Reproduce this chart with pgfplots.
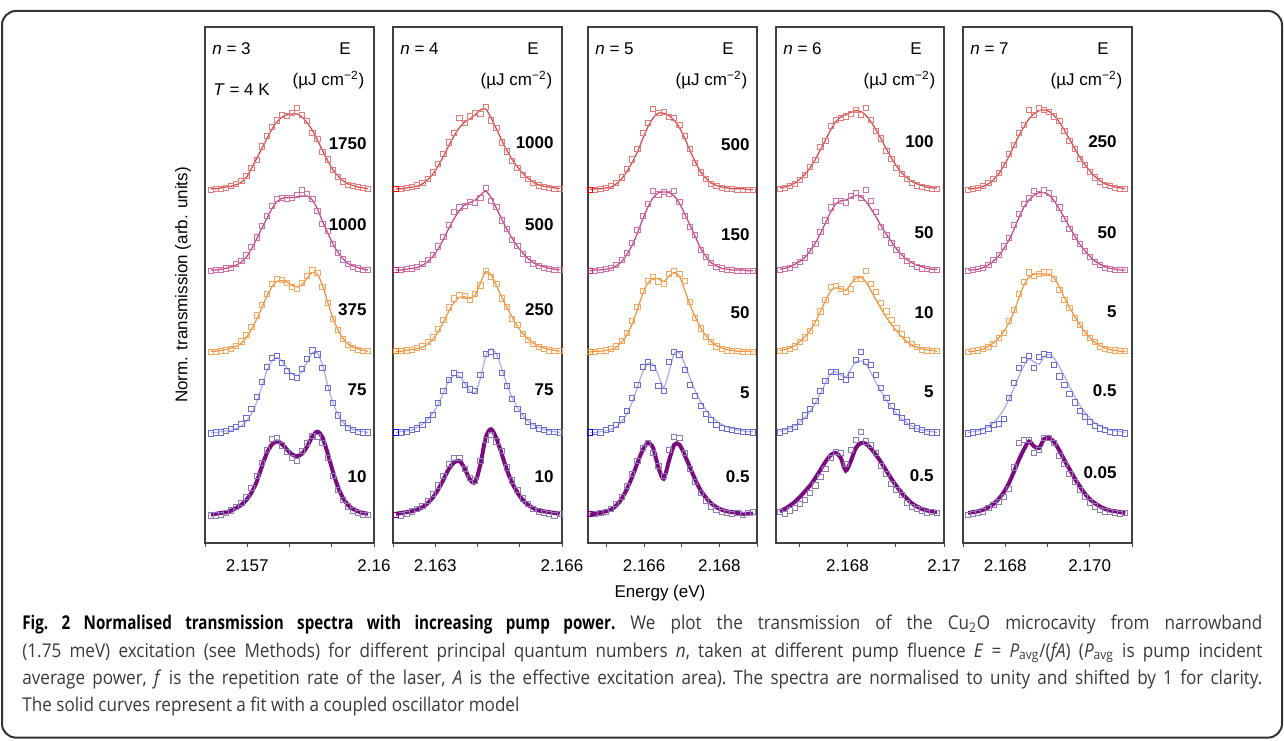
\documentclass[border=0pt]{standalone}
\usepackage{pgfplots}
\usepackage{pgfplotstable}
\pgfplotsset{compat=1.18}
\usepackage{fontspec}
\setmainfont{Liberation Sans}
\newfontfamily\capfont[FakeStretch=0.9, BoldFeatures={FakeStretch=0.8}]{Open Sans}

\definecolor{cP}{HTML}{7B0B7E}
\definecolor{mP}{HTML}{8C7AB8}
\definecolor{mB}{HTML}{6B6BD6}
\definecolor{lB}{HTML}{A9A9EE}
\definecolor{mO}{HTML}{F4A65C}
\definecolor{lO}{HTML}{F0913A}
\definecolor{mM}{HTML}{CF6FA8}
\definecolor{lM}{HTML}{C2407F}
\definecolor{mR}{HTML}{E27A7A}
\definecolor{lR}{HTML}{D64545}
\definecolor{txt}{HTML}{3A3A3A}

\newcommand\fs{\fontsize{8.5}{10}\selectfont}

% one row per series, transposed below
\pgfplotstableread[header=false]{
x 2.15614 2.15626 2.15638 2.15650 2.15662 2.15674 2.15686 2.15698 2.15710 2.15722 2.15734 2.15746 2.15758 2.15770 2.15782 2.15794 2.15806 2.15818 2.15830 2.15842 2.15854 2.15866 2.15878 2.15890 2.15902 2.15914 2.15926 2.15938 2.15950 2.15962 2.15974 2.15986
m0 -0.01 -0.01 0.00 0.02 0.05 0.09 0.14 0.22 0.33 0.48 0.64 0.80 0.93 0.94 0.85 0.77 0.70 0.66 0.78 0.88 0.97 0.96 0.88 0.70 0.48 0.30 0.18 0.10 0.05 0.02 0.00 0.00
m1 0.00 0.01 0.01 0.03 0.05 0.08 0.12 0.19 0.30 0.45 0.63 0.82 0.93 0.95 0.87 0.77 0.70 0.68 0.79 0.92 1.02 0.97 0.80 0.56 0.37 0.22 0.13 0.07 0.04 0.02 0.01 0.01
m2 0.00 0.00 0.01 0.02 0.04 0.08 0.13 0.21 0.31 0.45 0.58 0.72 0.84 0.90 0.89 0.85 0.80 0.78 0.85 0.94 1.01 0.97 0.80 0.60 0.41 0.27 0.16 0.09 0.05 0.03 0.01 0.01
m3 0.00 0.01 0.01 0.03 0.04 0.08 0.12 0.19 0.29 0.41 0.55 0.68 0.80 0.88 0.90 0.89 0.90 0.93 1.00 0.95 0.88 0.74 0.58 0.49 0.33 0.22 0.14 0.08 0.05 0.03 0.01 0.01
m4 0.00 0.01 0.01 0.02 0.04 0.07 0.11 0.17 0.27 0.36 0.53 0.66 0.77 0.85 0.92 0.91 0.94 1.00 0.92 0.84 0.70 0.62 0.46 0.37 0.24 0.16 0.10 0.06 0.04 0.03 0.02 0.01
f0 0.00 0.01 0.02 0.03 0.05 0.08 0.12 0.18 0.27 0.40 0.58 0.75 0.86 0.90 0.87 0.80 0.74 0.72 0.75 0.84 0.96 1.02 0.95 0.76 0.54 0.35 0.21 0.12 0.07 0.04 0.02 0.01
f1 0.01 0.01 0.02 0.03 0.04 0.06 0.09 0.15 0.24 0.38 0.56 0.76 0.89 0.93 0.89 0.80 0.73 0.71 0.76 0.88 0.99 0.99 0.84 0.60 0.39 0.24 0.14 0.08 0.05 0.03 0.02 0.01
f2 0.01 0.01 0.02 0.03 0.05 0.07 0.11 0.18 0.28 0.40 0.54 0.68 0.80 0.87 0.88 0.86 0.82 0.80 0.83 0.91 0.98 0.96 0.82 0.62 0.43 0.28 0.17 0.10 0.06 0.04 0.02 0.01
f3 0.01 0.01 0.02 0.03 0.05 0.07 0.11 0.17 0.27 0.39 0.52 0.64 0.76 0.85 0.89 0.90 0.90 0.91 0.92 0.92 0.87 0.76 0.61 0.47 0.34 0.23 0.15 0.09 0.06 0.04 0.02 0.01
f4 0.01 0.01 0.02 0.03 0.04 0.06 0.09 0.15 0.26 0.38 0.50 0.62 0.74 0.83 0.89 0.92 0.93 0.93 0.89 0.82 0.73 0.61 0.48 0.36 0.25 0.17 0.11 0.07 0.05 0.03 0.02 0.01
}\rawA
\pgfplotstableread[header=false]{
x 2.162070 2.162195 2.162320 2.162445 2.162570 2.162695 2.162820 2.162945 2.163070 2.163195 2.163320 2.163445 2.163570 2.163695 2.163820 2.163945 2.164070 2.164195 2.164320 2.164445 2.164570 2.164695 2.164820 2.164945 2.165070 2.165195 2.165320 2.165445 2.165570 2.165695 2.165820 2.165945
m0 0.00 -0.01 0.01 0.04 0.07 0.11 0.17 0.25 0.36 0.48 0.62 0.70 0.70 0.56 0.45 0.42 0.66 0.92 0.98 0.90 0.78 0.58 0.42 0.30 0.20 0.13 0.07 0.04 0.02 0.01 -0.01 0.01
m1 0.01 0.01 0.02 0.04 0.06 0.10 0.16 0.23 0.37 0.52 0.66 0.74 0.72 0.60 0.54 0.52 0.72 0.98 1.00 0.95 0.74 0.58 0.42 0.30 0.21 0.14 0.09 0.06 0.04 0.02 0.02 0.01
m2 0.01 0.01 0.02 0.03 0.05 0.07 0.12 0.18 0.28 0.40 0.55 0.66 0.70 0.69 0.64 0.72 0.82 1.00 0.92 0.84 0.66 0.56 0.41 0.33 0.22 0.15 0.10 0.06 0.04 0.02 0.01 0.01
m3 0.01 0.01 0.02 0.03 0.05 0.08 0.13 0.20 0.30 0.42 0.56 0.72 0.78 0.80 0.85 0.84 0.90 1.02 0.86 0.79 0.62 0.52 0.38 0.31 0.21 0.14 0.09 0.06 0.04 0.02 0.01 0.01
m4 0.01 0.01 0.02 0.03 0.05 0.08 0.13 0.21 0.32 0.44 0.58 0.70 0.88 0.82 0.90 0.94 0.93 1.02 0.85 0.76 0.58 0.47 0.35 0.27 0.18 0.13 0.08 0.05 0.03 0.02 0.01 0.01
f0 0.01 0.02 0.03 0.04 0.06 0.09 0.14 0.21 0.31 0.43 0.56 0.64 0.66 0.57 0.43 0.40 0.62 0.95 1.05 0.94 0.75 0.55 0.39 0.27 0.18 0.12 0.08 0.05 0.04 0.03 0.02 0.01
f1 0.01 0.02 0.03 0.04 0.07 0.11 0.17 0.25 0.36 0.50 0.64 0.71 0.70 0.62 0.52 0.50 0.68 0.95 1.04 0.98 0.80 0.60 0.44 0.32 0.22 0.15 0.10 0.07 0.05 0.03 0.02 0.01
f2 0.01 0.01 0.02 0.03 0.04 0.06 0.10 0.16 0.25 0.37 0.50 0.61 0.67 0.68 0.66 0.70 0.85 0.99 0.95 0.82 0.68 0.55 0.43 0.32 0.23 0.16 0.11 0.07 0.05 0.03 0.02 0.01
f3 0.01 0.01 0.02 0.03 0.04 0.07 0.11 0.18 0.27 0.39 0.52 0.64 0.74 0.81 0.84 0.87 0.93 0.98 0.90 0.77 0.64 0.51 0.40 0.30 0.22 0.15 0.10 0.07 0.05 0.03 0.02 0.01
f4 0.01 0.01 0.02 0.03 0.04 0.07 0.12 0.19 0.29 0.41 0.54 0.66 0.76 0.83 0.87 0.92 0.98 0.99 0.88 0.75 0.61 0.48 0.37 0.28 0.20 0.14 0.09 0.06 0.04 0.03 0.02 0.01
}\rawB
\pgfplotstableread[header=false]{
x 2.16456 2.16470 2.16484 2.16498 2.16512 2.16526 2.16540 2.16554 2.16568 2.16582 2.16596 2.16610 2.16624 2.16638 2.16652 2.16666 2.16680 2.16694 2.16708 2.16722 2.16736 2.16750 2.16764 2.16778 2.16792 2.16806 2.16820 2.16834 2.16848 2.16862 2.16876 2.16890
m0 0.01 0.01 0.02 0.03 0.07 0.13 0.22 0.35 0.50 0.66 0.82 0.88 0.76 0.60 0.48 0.80 0.96 0.94 0.76 0.56 0.40 0.27 0.17 0.10 0.06 0.03 0.02 0.01 0.02 0.00 0.02 0.03
m1 0.01 0.02 0.01 0.04 0.06 0.10 0.17 0.28 0.44 0.60 0.82 0.88 0.80 0.58 0.52 0.88 1.00 0.97 0.78 0.60 0.46 0.34 0.24 0.16 0.10 0.07 0.05 0.04 0.03 0.02 0.02 0.01
m2 0.00 0.00 0.01 0.02 0.04 0.07 0.14 0.24 0.38 0.56 0.75 0.88 0.92 0.87 0.84 0.96 1.00 0.96 0.88 0.62 0.42 0.29 0.19 0.12 0.07 0.04 0.02 0.01 0.01 0.00 0.00 0.00
m3 0.00 0.00 0.01 0.02 0.04 0.07 0.13 0.22 0.34 0.50 0.68 0.82 0.98 0.94 0.97 0.95 0.98 0.85 0.68 0.54 0.44 0.26 0.17 0.10 0.05 0.03 0.01 0.01 0.00 0.00 0.00 0.00
m4 0.00 0.00 0.01 0.02 0.04 0.08 0.15 0.25 0.37 0.50 0.70 0.82 0.99 0.94 0.96 0.89 0.88 0.80 0.66 0.50 0.33 0.21 0.13 0.07 0.04 0.02 0.01 0.01 0.00 0.00 0.00 0.00
f0 0.00 0.01 0.02 0.04 0.06 0.11 0.19 0.31 0.46 0.63 0.79 0.88 0.82 0.58 0.44 0.66 0.86 0.86 0.73 0.58 0.43 0.30 0.21 0.14 0.09 0.06 0.04 0.03 0.02 0.01 0.01 0.01
f1 0.01 0.01 0.02 0.03 0.05 0.08 0.14 0.24 0.38 0.56 0.75 0.86 0.85 0.72 0.56 0.75 0.98 0.99 0.85 0.68 0.52 0.39 0.29 0.21 0.15 0.11 0.08 0.06 0.04 0.03 0.02 0.02
f2 0.00 0.01 0.01 0.02 0.03 0.06 0.12 0.21 0.34 0.52 0.71 0.85 0.91 0.90 0.87 0.93 0.98 0.93 0.76 0.58 0.43 0.30 0.20 0.13 0.08 0.05 0.03 0.02 0.01 0.01 0.01 0.00
f3 0.00 0.01 0.01 0.02 0.03 0.06 0.11 0.20 0.31 0.46 0.63 0.78 0.90 0.96 0.97 0.96 0.92 0.83 0.70 0.56 0.42 0.28 0.18 0.10 0.06 0.03 0.02 0.01 0.01 0.01 0.00 0.00
f4 0.00 0.01 0.01 0.02 0.03 0.07 0.13 0.22 0.33 0.46 0.62 0.77 0.88 0.94 0.94 0.91 0.85 0.76 0.63 0.48 0.34 0.22 0.14 0.08 0.05 0.03 0.02 0.01 0.01 0.01 0.00 0.00
}\rawC
\pgfplotstableread[header=false]{
x 2.166600 2.166705 2.166810 2.166915 2.167020 2.167125 2.167230 2.167335 2.167440 2.167545 2.167650 2.167755 2.167860 2.167965 2.168070 2.168175 2.168280 2.168385 2.168490 2.168595 2.168700 2.168805 2.168910 2.169015 2.169120 2.169225 2.169330 2.169435 2.169540 2.169645 2.169750 2.169855
m0 0.03 0.01 0.05 0.08 0.13 0.18 0.27 0.36 0.46 0.56 0.70 0.77 0.76 0.62 0.80 0.92 1.02 0.90 0.86 0.76 0.60 0.50 0.38 0.30 0.24 0.14 0.09 0.07 0.05 0.02 0.03 0.02
m1 0.01 0.03 0.05 0.08 0.14 0.22 0.30 0.40 0.52 0.64 0.76 0.76 0.70 0.66 0.72 0.90 1.00 0.88 0.84 0.72 0.56 0.44 0.34 0.26 0.19 0.14 0.09 0.06 0.04 0.02 0.01 0.01
m2 0.01 0.02 0.04 0.07 0.12 0.18 0.26 0.36 0.50 0.64 0.80 0.81 0.78 0.74 0.78 0.90 0.90 1.00 0.84 0.74 0.60 0.50 0.40 0.30 0.22 0.15 0.10 0.06 0.03 0.02 0.01 0.01
m3 0.01 0.02 0.04 0.07 0.11 0.16 0.24 0.33 0.48 0.62 0.78 0.86 0.86 0.84 0.92 0.96 0.90 1.00 0.86 0.72 0.54 0.44 0.34 0.26 0.18 0.12 0.08 0.05 0.03 0.02 0.01 0.01
m4 0.01 0.02 0.04 0.07 0.12 0.18 0.28 0.36 0.52 0.60 0.78 0.86 0.88 0.90 0.93 0.98 0.92 1.00 0.86 0.72 0.63 0.48 0.38 0.27 0.19 0.13 0.08 0.05 0.03 0.02 0.01 0.01
f0 0.04 0.07 0.11 0.16 0.22 0.29 0.36 0.45 0.55 0.65 0.73 0.76 0.70 0.54 0.66 0.82 0.88 0.87 0.81 0.73 0.64 0.54 0.44 0.35 0.27 0.20 0.14 0.10 0.07 0.05 0.04 0.03
f1 0.02 0.04 0.06 0.09 0.14 0.20 0.27 0.37 0.49 0.62 0.73 0.76 0.72 0.69 0.79 0.88 0.89 0.85 0.74 0.62 0.51 0.41 0.32 0.24 0.18 0.13 0.09 0.06 0.04 0.03 0.02 0.01
f2 0.02 0.03 0.05 0.08 0.13 0.19 0.27 0.37 0.50 0.63 0.75 0.79 0.78 0.76 0.84 0.91 0.92 0.86 0.75 0.64 0.53 0.43 0.34 0.26 0.19 0.13 0.09 0.06 0.04 0.03 0.02 0.01
f3 0.02 0.03 0.05 0.08 0.12 0.17 0.25 0.34 0.46 0.59 0.72 0.82 0.86 0.87 0.90 0.93 0.91 0.85 0.76 0.66 0.55 0.45 0.36 0.27 0.20 0.14 0.10 0.07 0.05 0.03 0.02 0.02
f4 0.02 0.03 0.05 0.08 0.13 0.19 0.27 0.37 0.49 0.61 0.73 0.83 0.89 0.92 0.95 0.97 0.96 0.91 0.83 0.73 0.62 0.50 0.39 0.29 0.21 0.15 0.10 0.07 0.05 0.03 0.02 0.02
}\rawD
\pgfplotstableread[header=false]{
x 2.16712 2.16724 2.16736 2.16748 2.16760 2.16772 2.16784 2.16796 2.16808 2.16820 2.16832 2.16844 2.16856 2.16868 2.16880 2.16892 2.16904 2.16916 2.16928 2.16940 2.16952 2.16964 2.16976 2.16988 2.17000 2.17012 2.17024 2.17036 2.17048 2.17060 2.17072 2.17084
m0 0.00 0.01 0.02 0.04 0.08 0.12 0.16 0.22 0.32 0.58 0.88 0.92 0.92 0.76 0.80 0.94 0.94 0.88 0.72 0.62 0.50 0.40 0.30 0.22 0.15 0.10 0.06 0.04 0.03 0.02 0.01 0.02
m1 0.00 0.01 0.02 0.03 0.06 0.10 0.12 0.18 0.44 0.62 0.80 0.90 0.95 0.80 0.94 0.98 0.96 0.84 0.70 0.60 0.48 0.38 0.28 0.20 0.14 0.09 0.06 0.04 0.02 0.01 0.01 0.00
m2 0.00 0.01 0.02 0.04 0.06 0.10 0.17 0.24 0.38 0.52 0.72 0.86 0.98 0.94 0.96 0.98 0.98 0.90 0.76 0.64 0.54 0.42 0.33 0.24 0.17 0.12 0.07 0.04 0.03 0.02 0.01 0.01
m3 0.00 0.01 0.02 0.04 0.07 0.13 0.20 0.30 0.40 0.56 0.70 0.82 0.90 0.98 0.95 1.00 0.96 0.88 0.78 0.64 0.52 0.42 0.33 0.24 0.17 0.11 0.07 0.04 0.02 0.01 0.01 0.01
m4 0.00 0.01 0.02 0.04 0.08 0.13 0.20 0.30 0.44 0.55 0.70 0.80 0.98 0.92 1.00 0.98 0.96 0.90 0.84 0.72 0.60 0.50 0.38 0.30 0.22 0.15 0.10 0.06 0.04 0.02 0.01 0.01
f0 0.02 0.03 0.04 0.06 0.09 0.13 0.19 0.27 0.38 0.52 0.67 0.80 0.90 0.84 0.82 0.93 0.94 0.89 0.79 0.67 0.56 0.45 0.35 0.26 0.19 0.14 0.10 0.07 0.05 0.04 0.03 0.02
f1 0.01 0.02 0.03 0.05 0.08 0.13 0.20 0.29 0.41 0.55 0.70 0.83 0.91 0.88 0.85 0.94 0.97 0.92 0.82 0.70 0.58 0.46 0.35 0.26 0.19 0.13 0.09 0.06 0.04 0.03 0.02 0.01
f2 0.01 0.01 0.02 0.04 0.07 0.11 0.17 0.25 0.35 0.49 0.66 0.82 0.92 0.96 0.96 0.96 0.96 0.91 0.80 0.67 0.55 0.44 0.34 0.25 0.18 0.12 0.08 0.05 0.03 0.02 0.01 0.01
f3 0.01 0.01 0.02 0.04 0.07 0.12 0.18 0.27 0.37 0.50 0.65 0.78 0.87 0.93 0.96 0.96 0.93 0.86 0.76 0.65 0.54 0.43 0.33 0.25 0.18 0.12 0.08 0.05 0.03 0.02 0.01 0.01
f4 0.01 0.01 0.02 0.04 0.07 0.12 0.19 0.29 0.40 0.53 0.66 0.77 0.87 0.93 0.97 0.98 0.96 0.91 0.83 0.73 0.62 0.51 0.40 0.31 0.23 0.16 0.11 0.07 0.05 0.03 0.02 0.01
}\rawE
\pgfplotstabletranspose[colnames from=0]\dA\rawA
\pgfplotstabletranspose[colnames from=0]\dB\rawB
\pgfplotstabletranspose[colnames from=0]\dC\rawC
\pgfplotstabletranspose[colnames from=0]\dD\rawD
\pgfplotstabletranspose[colnames from=0]\dE\rawE

\pgfplotsset{
  panel/.style={scale only axis, width=84.5pt, height=258pt, anchor=south west,
    ymin=-0.35, ymax=6, ytick=\empty, scaled x ticks=false,
    axis line style={black!75, line width=0.6pt},
    tick align=outside, xtick pos=left, major tick length=2pt,
    tick style={black!75, line width=0.5pt},
    xticklabel style={font=\fs, yshift=-3pt}},
  mk/.style={only marks, mark=square, mark size=1.3pt, mark options={line width=0.4pt}},
}
\newcommand\spectra[1]{%
  \addplot[mk, mP] table[x=x, y=m0]{#1};
  \addplot[mk, mB] table[x=x, y expr=\thisrow{m1}+1]{#1};
  \addplot[mk, mO] table[x=x, y expr=\thisrow{m2}+2]{#1};
  \addplot[mk, mM] table[x=x, y expr=\thisrow{m3}+3]{#1};
  \addplot[mk, mR] table[x=x, y expr=\thisrow{m4}+4]{#1};
  \addplot[lB, line width=0.6pt, smooth] table[x=x, y expr=\thisrow{f1}+1]{#1};
  \addplot[lO, line width=0.6pt, smooth] table[x=x, y expr=\thisrow{f2}+2]{#1};
  \addplot[lM, line width=0.6pt, smooth] table[x=x, y expr=\thisrow{f3}+3]{#1};
  \addplot[lR, line width=0.6pt, smooth] table[x=x, y expr=\thisrow{f4}+4]{#1};
  \addplot[cP, line width=2pt, smooth] table[x=x, y=f0]{#1};
}

\begin{document}
\begin{tikzpicture}
\useasboundingbox (0,0) rectangle (642pt,370pt);
\draw[black!80, line width=1pt, rounded corners=7pt] (1pt,1.2pt) rectangle (641pt,364.5pt);

\begin{axis}[panel, at={(102.5pt,98.5pt)}, xmin=2.156, xmax=2.16,
  xtick={2.156,2.157,2.158,2.159,2.16}, xticklabels={,2.157,,,2.16}]
\spectra{\dA}
\end{axis}
\begin{axis}[panel, at={(196.5pt,98.5pt)}, xmin=2.162, xmax=2.166,
  xtick={2.162,2.163,2.164,2.165,2.166}, xticklabels={,2.163,,,2.166}]
\spectra{\dB}
\addplot[mk, red] coordinates {(2.16207,4.01)};
\addplot[mk, magenta!80!black] coordinates {(2.16207,3.01)};
\addplot[mk, orange] coordinates {(2.16207,2.01)};
\addplot[mk, blue] coordinates {(2.16207,1.01)};
\addplot[mk, violet] coordinates {(2.16207,0.00)};
\end{axis}
\begin{axis}[panel, at={(294pt,98.5pt)}, xmin=2.16451, xmax=2.169,
  xtick={2.165,2.166,2.167,2.168,2.169}, xticklabels={,2.166,,2.168,}]
\spectra{\dC}
\addplot[mk, red] coordinates {(2.16456,4.00)};
\addplot[mk, magenta!80!black] coordinates {(2.16456,3.00)};
\addplot[mk, orange] coordinates {(2.16456,2.00)};
\addplot[mk, blue] coordinates {(2.16456,1.01)};
\addplot[mk, violet] coordinates {(2.16456,0.01)};
\end{axis}
\begin{axis}[panel, at={(388pt,98.5pt)}, width=84pt, xmin=2.16652, xmax=2.17,
  xtick={2.167,2.168,2.169,2.17}, xticklabels={,2.168,,2.17}]
\spectra{\dD}
\end{axis}
\begin{axis}[panel, at={(481.5pt,98.5pt)}, xmin=2.167, xmax=2.171,
  xtick={2.167,2.168,2.169,2.17,2.171}, xticklabels={,2.168,,2.170,}]
\spectra{\dE}
\end{axis}

% panel headings
\foreach \nx/\ex/\ux/\k in {106/172.5/164.25/3, 200/266.5/258.25/4, 297.5/364/355.75/5, 391.5/458/449.75/6, 485/551.5/543.25/7}{
  \node[anchor=west, inner sep=0, font=\fs] at (\nx pt,345.5pt) {\textit{n} = \k};
  \node[inner sep=0, font=\fs] at (\ex pt,345.5pt) {E};
  \node[inner sep=0, font=\fs] at (\ux pt,330pt) {(µJ cm\textsuperscript{−2})};
}
\node[anchor=west, inner sep=0, font=\fs] at (106.5pt,325pt) {\textit{T} = 4 K};

% fluence labels
\begin{scope}[every node/.style={anchor=east, inner sep=0, font=\fs\bfseries}]
\node at (183.5pt,131.5pt) {10};  \node at (183.5pt,175pt) {75};
\node at (183.5pt,215pt) {375};   \node at (183.5pt,257.5pt) {1000};
\node at (183.5pt,298pt) {1750};
\node at (277pt,131.5pt) {10};    \node at (277pt,175pt) {75};
\node at (277pt,215pt) {250};     \node at (277pt,257.5pt) {500};
\node at (277pt,298.5pt) {1000};
\node at (375pt,131.5pt) {0.5};   \node at (375pt,173.5pt) {5};
\node at (375pt,213.5pt) {50};    \node at (375pt,252.5pt) {150};
\node at (375pt,297.5pt) {500};
\node at (467pt,132pt) {0.5};     \node at (467pt,174pt) {5};
\node at (467pt,213.5pt) {10};    \node at (467pt,253.5pt) {50};
\node at (467pt,299pt) {100};
\node at (558.5pt,133.5pt) {0.05}; \node at (558.5pt,174.5pt) {0.5};
\node at (558.5pt,214pt) {5};     \node at (558.5pt,253.5pt) {50};
\node at (558.5pt,299pt) {250};
\end{scope}

\node[rotate=90, font=\fs] at (91.5pt,227.5pt) {Norm. transmission (arb. units)};
\node[font=\fs] at (330pt,73.5pt) {Energy (eV)};

% caption
\begin{scope}[every node/.style={anchor=base west, inner sep=0, text=txt, font=\capfont\fontsize{9.5}{11}\selectfont\frenchspacing}]
\node at (11pt,55.5pt) {\makebox[620pt][s]{\textcolor{black}{\bfseries Fig. 2 Normalised transmission spectra with increasing pump power.} We plot the transmission of the Cu\textsubscript{2}O microcavity from narrowband}};
\node at (11pt,41.5pt) {\makebox[620pt][s]{(1.75 meV) excitation (see Methods) for different principal quantum numbers \textit{n}, taken at different pump fluence \textit{E} = \textit{P}\textsubscript{avg}/(\textit{fA}) (\textit{P}\textsubscript{avg} is pump incident}};
\node at (11pt,28pt) {\makebox[620pt][s]{average power, \textit{f} is the repetition rate of the laser, \textit{A} is the effective excitation area). The spectra are normalised to unity and shifted by 1 for clarity.}};
\node at (11pt,14.5pt) {The solid curves represent a fit with a coupled oscillator model};
\end{scope}
\end{tikzpicture}
\end{document}
